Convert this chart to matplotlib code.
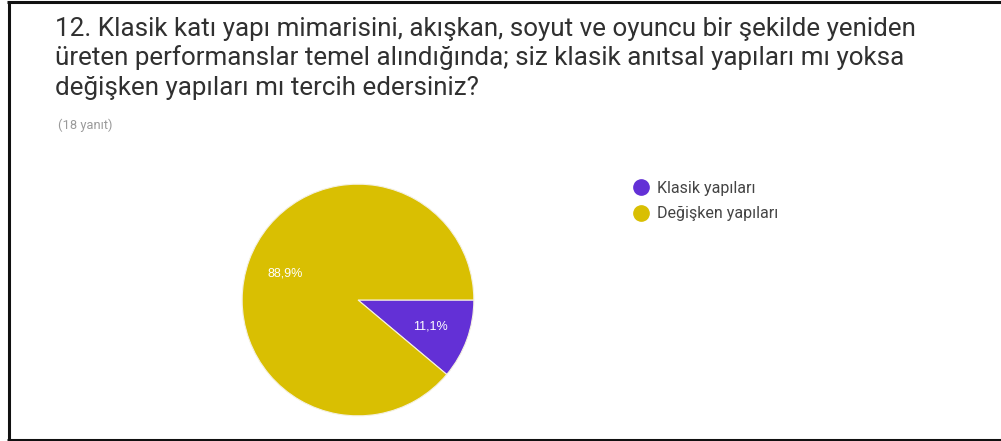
import matplotlib
matplotlib.use('Agg')
import matplotlib.pyplot as plt
from matplotlib.lines import Line2D

plt.rcParams['font.family'] = ['Roboto', 'DejaVu Sans']

title_lines = [
    '12. Klasik katı yapı mimarisini, akışkan, soyut ve oyuncu bir şekilde yeniden',
    'üreten performanslar temel alındığında; siz klasik anıtsal yapıları mı yoksa',
    'değişken yapıları mı tercih edersiniz?',
]
answer_count = '(18 yanıt)'
categories = ['Klasik yapıları', 'Değişken yapıları']
counts = [2, 16]
colors = ['#6330d6', '#d9bf02']

W, H = 1001, 441
fig = plt.figure(figsize=(W / 100, H / 100), dpi=100)
fig.patch.set_facecolor('white')

# pie axes placed in pixel units (centre 358,300 radius 117 from top-left)
cx, cy, r = 358, 300, 117
ax = fig.add_axes([(cx - r) / W, (H - cy - r) / H, 2 * r / W, 2 * r / H])


def pct_label(p):
    return ('%.1f%%' % p).replace('.', ',')


wedges, texts, autotexts = ax.pie(
    counts, colors=colors, startangle=0, counterclock=False,
    autopct=pct_label, pctdistance=0.67, radius=1,
    wedgeprops=dict(edgecolor='#f4f0e0', linewidth=0.8),
    textprops=dict(color='white', fontsize=9, fontfamily=['Liberation Sans', 'DejaVu Sans']))
ax.set_xlim(-1.01, 1.01)
ax.set_ylim(-1.01, 1.01)
ax.set_aspect('equal')
ax.axis('off')

# title and response count
for i, line in enumerate(title_lines):
    fig.text(55 / W, 1 - (36 + i * 29.5) / H, line, fontsize=18.75, color='#303030',
             va='baseline', ha='left')
fig.text(58 / W, 1 - 129 / H, answer_count, fontsize=9.3, color='#9a9a9a',
         va='baseline', ha='left')

# legend with round markers
handles = [Line2D([], [], marker='o', linestyle='none', markersize=11,
                  markerfacecolor=c, markeredgecolor=c) for c in colors]
fig.legend(handles, categories, loc='upper left', bbox_to_anchor=(633 / W, 1 - 181 / H),
           frameon=False, fontsize=11.5, labelcolor='#444444', handletextpad=0.5,
           labelspacing=0.65, borderpad=0, borderaxespad=0, handlelength=1.0)

# frame around the card (left, top, bottom)
frame = dict(color='#111111', linewidth=2.2, solid_capstyle='butt')
fig.add_artist(Line2D([8.5 / W, 8.5 / W], [1 - 1 / H, 1 - 440 / H], **frame))
fig.add_artist(Line2D([7 / W, 1], [1 - 1.5 / H, 1 - 1.5 / H], **frame))
fig.add_artist(Line2D([7 / W, 1], [1 - 439.5 / H, 1 - 439.5 / H], **frame))

fig.savefig('out.png', dpi=100, facecolor='white')
